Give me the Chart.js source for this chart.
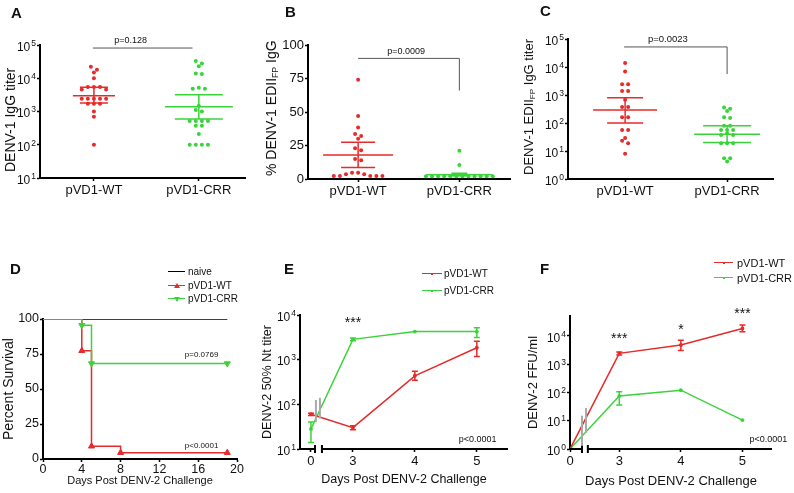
<!DOCTYPE html>
<html>
<head>
<meta charset="utf-8">
<title>DENV vaccine figure</title>
<script src="https://cdn.jsdelivr.net/npm/chart.js@4.4.1/dist/chart.umd.min.js"></script>
<style>
  html, body { margin: 0; padding: 0; background: #fff; }
  body { position: relative; width: 794px; height: 493px; overflow: hidden;
         font-family: "Liberation Sans", Arial, "DejaVu Sans", sans-serif; color: #111; }
  canvas { position: absolute; }
  .letter { position: absolute; font-weight: bold; font-size: 15px; line-height: 15px; z-index: 2; }
  .ytitle { position: absolute; white-space: nowrap; line-height: 16px; z-index: 2;
            transform-origin: 0 0; transform: rotate(-90deg); }
  .ytitle sub { font-size: 62%; vertical-align: -0.25em; line-height: 0; }
  .lg { position: absolute; white-space: nowrap; height: 0; z-index: 2; }
  .lg .ln { position: absolute; left: 0; top: -0.75px; border-top: 1.5px solid; }
  .lg .mk { position: absolute; width: 0; height: 0; }
  .lg .tx { position: absolute; top: -7px; line-height: 14px; }
</style>
</head>
<body>
<div class="letter" style="left:11px;top:5px">A</div>
<div class="letter" style="left:285px;top:4px">B</div>
<div class="letter" style="left:540px;top:3px">C</div>
<div class="letter" style="left:10px;top:261px">D</div>
<div class="letter" style="left:284px;top:261px">E</div>
<div class="letter" style="left:540px;top:261px">F</div>

<div class="ytitle" data-cx="10" data-cy="120" style="font-size:14px">DENV-1 IgG titer</div>
<div class="ytitle" data-cx="271" data-cy="108" style="font-size:14px">% DENV-1 EDII<sub>FP</sub> IgG</div>
<div class="ytitle" data-cx="529" data-cy="107" style="font-size:13px">DENV-1 EDII<sub>FP</sub> IgG titer</div>

<script>
const FONT = '"Liberation Sans", Arial, "DejaVu Sans", sans-serif';
const RED = '#e52b2b';
const GREEN = '#3ad43a';
const INK = '#111';

// ---------- data ----------
const groups = ['pVD1-WT', 'pVD1-CRR'];

// A: DENV-1 IgG titer per mouse
const aWT = [22000, 18000, 15000, 10000, 5500, 5500, 5500, 4600, 4600,
             2400, 2400, 2400, 2400, 2400, 1700, 1700, 1700, 1000, 700, 100];
const aCRR = [33000, 28000, 23000, 14000, 13500, 5200, 4800, 4800, 1500, 1100,
              1000, 520, 520, 520, 520, 370, 370, 210, 100, 100, 100, 100];
const aMean = [3000, 1400];
const aSemLow = [1800, 600];
const aSemHigh = [5400, 3200];

// B: % DENV-1 EDII FP IgG
const bWT = [74, 47, 38.5, 33.5, 32, 30, 23, 21.5, 15, 14,
             4.7, 4.7, 3.5, 3.5, 2.2, 2.2, 2.2, 2.2, 2.2];
const bCRR = [21, 10.4, 2, 2, 2, 2, 2, 2, 2, 2, 2, 2, 2, 2];
const bMean = [18, 3.2];
const bSemLow = [8.5, 2.4];
const bSemHigh = [27.5, 4.2];

// C: DENV-1 EDII FP IgG titer
const cWT = [14000, 6900, 2400, 2400, 1400, 1400, 670, 370, 370, 160, 160,
             56, 56, 29, 23, 19, 8];
const cCRR = [360, 320, 270, 160, 150, 80, 80, 56, 56, 56, 43, 37, 37,
              19, 19, 19, 5.5, 5.5, 4.2];
const cMean = [290, 40];
const cSemLow = [100, 20];
const cSemHigh = [800, 80];

// D: survival after DENV-2 challenge
const dNames = ['naive', 'pVD1-WT', 'pVD1-CRR'];
const dNaiveDays = [0, 19];
const dNaiveSurv = [100, 100];
const dWtDays = [0, 4, 5, 8, 19];
const dWtSurv = [100, 77.3, 9.1, 4.5, 4.5];
const dCrrDays = [0, 4, 5, 19];
const dCrrSurv = [100, 95.5, 68.2, 68.2];

// E: DENV-2 50% Nt titer
const eDays = [0, 3, 4, 5];
const eDayLabels = ['0', '3', '4', '5'];
const eWtMean = [60, 30, 435, 1850];
const eWtLow = [56, 27, 345, 1170];
const eWtHigh = [63, 33, 550, 2600];
const eCrrMean = [28, 2850, 4250, 4250];
const eCrrLow = [14, 2650, 4150, 3150];
const eCrrHigh = [40, 3050, 4350, 5200];

// F: DENV-2 FFU/ml
const fDays = [0, 3, 4, 5];
const fDayLabels = ['0', '3', '4', '5'];
const fWtMean = [1, 2400, 4700, 18000];
const fWtLow = [1, 2100, 3000, 14000];
const fWtHigh = [1, 2700, 7000, 24000];
const fCrrMean = [1, 74, 120, 10.5];
const fCrrLow = [1, 36, 120, 10.5];
const fCrrHigh = [1, 105, 120, 10.5];

// broken x axis: days 3..5 are pulled to the left of the real day scale
const ePos = d => d === 0 ? 0 : d - 2.323;
const fPos = d => d === 0 ? 0 : d - 2.2;

// ---------- helpers ----------
Chart.defaults.animation = false;
Chart.defaults.events = [];
Chart.defaults.font.family = FONT;
Chart.defaults.plugins.legend.display = false;
Chart.defaults.plugins.tooltip.enabled = false;

// rotated axis titles: centre them on whole pixels
document.querySelectorAll('.ytitle').forEach(el => {
    const w = el.offsetWidth, h = el.offsetHeight;
    el.style.left = Math.round(+el.dataset.cx - h / 2) + 'px';
    el.style.top = Math.round(+el.dataset.cy + w / 2) + 'px';
});

function panel(left, top, w, h) {
    const c = document.createElement('canvas');
    c.width = w; c.height = h;
    c.style.left = left + 'px'; c.style.top = top + 'px';
    c.style.width = w + 'px'; c.style.height = h + 'px';
    document.body.appendChild(c);
    return c;
}

function pairs(xs, ys, pos) {
    return xs.map((x, i) => ({ x: pos ? pos(x) : x, y: ys[i] }));
}

// simple beeswarm: values close together share a row, spread around the group centre
function swarm(values, center, tol, step, isLog) {
    const key = v => isLog ? Math.log10(v) : v;
    const sorted = values.slice().sort((a, b) => b - a);
    const rows = [];
    sorted.forEach(v => {
        const r = rows[rows.length - 1];
        if (r && key(r[0]) - key(v) <= tol) r.push(v); else rows.push([v]);
    });
    const pts = [];
    rows.forEach(r => {
        const n = r.length;
        const slots = [];
        for (let k = 0; k < n; k++) slots.push((k - (n - 1) / 2) * step);
        slots.sort((a, b) => Math.abs(a) - Math.abs(b) || a - b);
        r.forEach((v, i) => pts.push({ x: center + slots[i], y: v }));
    });
    return pts;
}

function decades(min, max) {
    const out = [];
    for (let e = Math.round(Math.log10(min)); e <= Math.floor(Math.log10(max) + 1e-9); e++) out.push(Math.pow(10, e));
    return out;
}

function axisBase(size) {
    return {
        border: { display: true, color: '#000', width: 2 },
        grid: { display: true, drawOnChartArea: false, drawTicks: true, tickLength: 3, tickWidth: 1.5, tickColor: '#000' },
        ticks: { color: INK, font: { family: FONT, size: size }, padding: 1, autoSkip: false, maxRotation: 0 }
    };
}

function yAxis(kind, min, max, width, size) {
    const a = axisBase(size);
    a.type = kind; a.min = min; a.max = max;
    a.afterFit = s => { s.width = width; };
    if (kind === 'logarithmic') {
        a.afterBuildTicks = s => { s.ticks = decades(min, max).map(v => ({ value: v })); };
        a.ticks.display = false; // powers of ten drawn by the extras plugin
    }
    return a;
}

function groupX(min, max, height, size) {
    const a = axisBase(size);
    a.type = 'linear'; a.min = min; a.max = max;
    a.afterFit = s => { s.height = height; };
    a.afterBuildTicks = s => { s.ticks = groups.map((g, i) => ({ value: i + 1 })); };
    a.ticks.callback = (v, i) => groups[i];
    a.ticks.padding = 2;
    return a;
}

function dayX(days, labels, pos, min, max, height, size) {
    const a = axisBase(size);
    a.type = 'linear'; a.min = min; a.max = max;
    a.border = { display: false }; // broken axis line drawn by the plugin
    a.afterFit = s => { s.height = height; };
    a.afterBuildTicks = s => { s.ticks = days.map(d => ({ value: pos(d) })); };
    a.ticks.callback = (v, i) => labels[i];
    a.ticks.padding = 2;
    return a;
}

function title(text, size, pad) {
    return { display: true, text: text, color: INK, font: { family: FONT, size: size }, padding: pad };
}

const extras = {
    id: 'extras',
    afterDatasetsDraw(chart, args, o) {
        const { ctx, chartArea: area } = chart;
        const x = chart.scales.x, y = chart.scales.y;
        ctx.save();

        // error bars on line series
        chart.data.datasets.forEach((ds, i) => {
            if (!ds.errLow) return;
            const meta = chart.getDatasetMeta(i);
            ctx.strokeStyle = ds.borderColor; ctx.lineWidth = 1.5;
            meta.data.forEach((pt, j) => {
                const lo = y.getPixelForValue(ds.errLow[j]), hi = y.getPixelForValue(ds.errHigh[j]);
                if (Math.abs(lo - hi) < 1) return;
                ctx.beginPath();
                ctx.moveTo(pt.x, lo); ctx.lineTo(pt.x, hi);
                ctx.moveTo(pt.x - 3, lo); ctx.lineTo(pt.x + 3, lo);
                ctx.moveTo(pt.x - 3, hi); ctx.lineTo(pt.x + 3, hi);
                ctx.stroke();
            });
        });

        // mean and SEM of scatter groups
        (o.bars || []).forEach(b => {
            const cx = x.getPixelForValue(b.x);
            const ym = y.getPixelForValue(b.mean), yl = y.getPixelForValue(b.low), yh = y.getPixelForValue(b.high);
            ctx.strokeStyle = b.color; ctx.lineWidth = 1.5;
            ctx.beginPath();
            ctx.moveTo(cx - b.meanHalf, ym); ctx.lineTo(cx + b.meanHalf, ym);
            ctx.moveTo(cx - b.capHalf, yl); ctx.lineTo(cx + b.capHalf, yl);
            ctx.moveTo(cx - b.capHalf, yh); ctx.lineTo(cx + b.capHalf, yh);
            ctx.moveTo(cx, yl); ctx.lineTo(cx, yh);
            ctx.stroke();
        });

        // p-value brackets
        (o.brackets || []).forEach(b => {
            const yy = y.getPixelForValue(b.y);
            ctx.strokeStyle = '#555'; ctx.lineWidth = 1;
            ctx.beginPath();
            ctx.moveTo(x.getPixelForValue(b.x1), yy);
            ctx.lineTo(x.getPixelForValue(b.x2), yy);
            if (b.drop != null) ctx.lineTo(x.getPixelForValue(b.x2), y.getPixelForValue(b.drop));
            ctx.stroke();
        });

        // broken x axis
        if (o.axisBreak) {
            const yb = area.bottom;
            const l = x.getPixelForValue(o.axisBreak[0]), r = x.getPixelForValue(o.axisBreak[1]);
            ctx.strokeStyle = '#000'; ctx.lineWidth = 2;
            ctx.beginPath();
            ctx.moveTo(area.left - 1, yb); ctx.lineTo(l, yb);
            ctx.moveTo(r, yb); ctx.lineTo(area.right, yb);
            ctx.moveTo(l, yb - 4); ctx.lineTo(l, yb + 4);
            ctx.moveTo(r, yb - 4); ctx.lineTo(r, yb + 4);
            ctx.stroke();
        }

        // break marks across the data lines
        (o.lineBreaks || []).forEach(m => {
            const px = x.getPixelForValue(m.x);
            ctx.strokeStyle = '#aaa'; ctx.lineWidth = 2;
            ctx.beginPath();
            ctx.moveTo(px, y.getPixelForValue(m.y1)); ctx.lineTo(px, y.getPixelForValue(m.y2));
            ctx.stroke();
        });

        // annotations
        (o.texts || []).forEach(t => {
            ctx.font = `${t.size}px ${FONT}`;
            ctx.fillStyle = INK; ctx.textAlign = 'center'; ctx.textBaseline = 'middle';
            ctx.fillText(t.text, x.getPixelForValue(t.x), y.getPixelForValue(t.y) + (t.dy || 0));
        });

        // powers of ten on log y axes
        if (o.pow) {
            const xr = y.right - 4;
            y.ticks.forEach(tk => {
                const py = y.getPixelForValue(tk.value);
                const ex = String(Math.round(Math.log10(tk.value)));
                const base = py + 1.5 + 0.358 * o.pow.size;
                ctx.fillStyle = INK; ctx.textAlign = 'right'; ctx.textBaseline = 'alphabetic';
                ctx.font = `${o.pow.esize}px ${FONT}`;
                const ew = ctx.measureText(ex).width;
                ctx.fillText(ex, xr, base - 0.42 * o.pow.size);
                ctx.font = `${o.pow.size}px ${FONT}`;
                ctx.fillText('10', xr - ew - 1, base);
            });
        }
        ctx.restore();
    }
};

function dots(data, color) {
    return { data: data, backgroundColor: color, borderWidth: 0, pointRadius: 2 };
}

// ---------- A ----------
new Chart(panel(0, 0, 260, 245), {
    type: 'scatter',
    data: { datasets: [
        dots(swarm(aWT, 1, 0.1, 0.058, true), RED),
        dots(swarm(aCRR, 2, 0.1, 0.058, true), GREEN)
    ] },
    options: {
        responsive: false,
        layout: { padding: { top: 45, right: 15, left: 0, bottom: 0 } },
        scales: { x: groupX(0.486, 2.44, 67, 13), y: yAxis('logarithmic', 10, 1e5, 40, 12) },
        plugins: { extras: {
            pow: { size: 12, esize: 8.5 },
            bars: [
                { x: 1, mean: aMean[0], low: aSemLow[0], high: aSemHigh[0], color: RED, meanHalf: 21, capHalf: 14 },
                { x: 2, mean: aMean[1], low: aSemLow[1], high: aSemHigh[1], color: GREEN, meanHalf: 34, capHalf: 24 }
            ],
            brackets: [{ x1: 0.99, x2: 1.94, y: 81000 }],
            texts: [{ x: 1.35, y: 1.4e5, text: 'p=0.128', size: 9 }]
        } }
    },
    plugins: [extras]
});

// ---------- B ----------
const bY = yAxis('linear', 0, 100, 48, 13);
bY.ticks.stepSize = 25;
new Chart(panel(260, 0, 260, 245), {
    type: 'scatter',
    data: { datasets: [
        dots(swarm(bWT, 1, 2.6, 0.06, false), RED),
        dots(swarm(bCRR, 2, 2.6, 0.06, false), GREEN)
    ] },
    options: {
        responsive: false,
        layout: { padding: { top: 45, right: 10, left: 0, bottom: 0 } },
        scales: { x: groupX(0.505, 2.5, 66, 13), y: bY },
        plugins: { extras: {
            bars: [
                { x: 1, mean: bMean[0], low: bSemLow[0], high: bSemHigh[0], color: RED, meanHalf: 35, capHalf: 17 },
                { x: 2, mean: bMean[1], low: bSemLow[1], high: bSemHigh[1], color: GREEN, meanHalf: 33, capHalf: 8 }
            ],
            brackets: [{ x1: 1, x2: 2, y: 90, drop: 66 }],
            texts: [{ x: 1.475, y: 95.5, text: 'p=0.0009', size: 9 }]
        } }
    },
    plugins: [extras]
});

// ---------- C ----------
new Chart(panel(520, 0, 274, 245), {
    type: 'scatter',
    data: { datasets: [
        dots(swarm(cWT, 1, 0.1, 0.059, true), RED),
        dots(swarm(cCRR, 2, 0.1, 0.059, true), GREEN)
    ] },
    options: {
        responsive: false,
        layout: { padding: { top: 39, right: 21, left: 0, bottom: 0 } },
        scales: { x: groupX(0.44, 2.45, 66, 13), y: yAxis('logarithmic', 1, 1e5, 48, 12) },
        plugins: { extras: {
            pow: { size: 12, esize: 8.5 },
            bars: [
                { x: 1, mean: cMean[0], low: cSemLow[0], high: cSemHigh[0], color: RED, meanHalf: 32, capHalf: 18 },
                { x: 2, mean: cMean[1], low: cSemLow[1], high: cSemHigh[1], color: GREEN, meanHalf: 33, capHalf: 24 }
            ],
            brackets: [{ x1: 0.99, x2: 2, y: 52000, drop: 5600 }],
            texts: [{ x: 1.42, y: 96000, text: 'p=0.0023', size: 9.5 }]
        } }
    },
    plugins: [extras]
});

// ---------- D ----------
const dX = axisBase(12.5);
dX.type = 'linear'; dX.min = 0; dX.max = 20;
dX.ticks.stepSize = 4; dX.ticks.padding = 0;
dX.afterFit = s => { s.height = 34; };
dX.title = title('Days Post DENV-2 Challenge', 11, { top: 0, bottom: 5.4 });
const dY = yAxis('linear', 0, 100, 43, 12.5);
dY.ticks.stepSize = 25;
dY.title = title('Percent Survival', 14, { top: 0.6, bottom: 0 });
const firstHidden = ctx => ctx.dataIndex === 0 ? 0 : 3.5;
new Chart(panel(0, 250, 260, 243), {
    type: 'line',
    data: { datasets: [
        { label: dNames[0], data: pairs(dNaiveDays, dNaiveSurv), borderColor: '#000', borderWidth: 1.5,
          stepped: true, pointRadius: 0, order: 2 },
        { label: dNames[1], data: pairs(dWtDays, dWtSurv), borderColor: RED, backgroundColor: RED, borderWidth: 1.5,
          stepped: true, pointStyle: 'triangle', pointRadius: firstHidden, pointBorderWidth: 1, order: 1 },
        { label: dNames[2], data: pairs(dCrrDays, dCrrSurv), borderColor: GREEN, backgroundColor: GREEN, borderWidth: 1.5,
          stepped: true, pointStyle: 'triangle', pointRotation: 180, pointRadius: firstHidden, pointBorderWidth: 1, order: 0 }
    ] },
    options: {
        responsive: false,
        layout: { padding: { top: 69, right: 23, left: 0, bottom: 0 } },
        scales: { x: dX, y: dY },
        plugins: { extras: {
            texts: [
                { x: 16.35, y: 74.6, text: 'p=0.0769', size: 8 },
                { x: 16.35, y: 9.6, text: 'p<0.0001', size: 8 }
            ]
        } }
    },
    plugins: [extras]
});

// ---------- E ----------
function seriesLine(data, color, low, high) {
    return { data: data, borderColor: color, backgroundColor: color, borderWidth: 1.5, pointRadius: 1.2,
             tension: 0, errLow: low, errHigh: high };
}
const eX = dayX(eDays, eDayLabels, ePos, -0.177, 3.18, 44, 13);
eX.title = title('Days Post DENV-2 Challenge', 12.5, { top: 0, bottom: 5.5 });
const eY = yAxis('logarithmic', 10, 1e4, 40, 12);
eY.title = title('DENV-2 50% Nt titer', 12.5, { top: 0, bottom: 0 });
new Chart(panel(260, 250, 260, 243), {
    type: 'line',
    data: { datasets: [
        seriesLine(pairs(eDays, eWtMean, ePos), RED, eWtLow, eWtHigh),
        seriesLine(pairs(eDays, eCrrMean, ePos), GREEN, eCrrLow, eCrrHigh)
    ] },
    options: {
        responsive: false,
        layout: { padding: { top: 65, right: 12, left: 0, bottom: 0 } },
        scales: { x: eX, y: eY },
        plugins: { extras: {
            pow: { size: 12, esize: 8.5 },
            axisBreak: [0.065, 0.177],
            lineBreaks: [{ x: 0.08, y1: 40, y2: 125 }, { x: 0.145, y1: 48, y2: 140 }],
            texts: [
                { x: ePos(3), y: 7500, text: '***', size: 14, dy: 3 },
                { x: 2.69, y: 16, text: 'p<0.0001', size: 9 }
            ]
        } }
    },
    plugins: [extras]
});

// ---------- F ----------
const fX = dayX(fDays, fDayLabels, fPos, 0, 3.28, 44, 13);
fX.title = title('Days Post DENV-2 Challenge', 13, { top: 0, bottom: 4.2 });
const fY = yAxis('logarithmic', 1, 5e4, 50, 12);
fY.title = title('DENV-2 FFU/ml', 13, { top: 5.2, bottom: 0 });
new Chart(panel(520, 250, 274, 243), {
    type: 'line',
    data: { datasets: [
        seriesLine(pairs(fDays, fWtMean, fPos), RED, fWtLow, fWtHigh),
        seriesLine(pairs(fDays, fCrrMean, fPos), GREEN, fCrrLow, fCrrHigh)
    ] },
    options: {
        responsive: false,
        layout: { padding: { top: 66, right: 22, left: 0, bottom: 0 } },
        scales: { x: fX, y: fY },
        plugins: { extras: {
            pow: { size: 12, esize: 8.5 },
            axisBreak: [0.195, 0.29],
            lineBreaks: [{ x: 0.195, y1: 1.3, y2: 15 }, { x: 0.26, y1: 3.7, y2: 28 }],
            texts: [
                { x: fPos(3), y: 9600, text: '***', size: 14, dy: 3 },
                { x: fPos(4), y: 20000, text: '*', size: 14, dy: 3 },
                { x: fPos(5), y: 74000, text: '***', size: 14, dy: 3 },
                { x: 3.22, y: 2.08, text: 'p<0.0001', size: 9 }
            ]
        } }
    },
    plugins: [extras]
});

// ---------- legends ----------
function legend(items, x0, rows, lineLen, textX, size) {
    items.forEach((it, i) => {
        const row = document.createElement('div');
        row.className = 'lg';
        row.style.left = x0 + 'px'; row.style.top = rows[i] + 'px'; row.style.fontSize = size + 'px';
        let mk = '';
        const mid = lineLen / 2;
        if (it.marker === 'up') {
            mk = `<span class="mk" style="left:${mid - 3}px;top:-3px;border-left:3px solid transparent;border-right:3px solid transparent;border-bottom:5px solid ${it.color}"></span>`;
        } else if (it.marker === 'down') {
            mk = `<span class="mk" style="left:${mid - 3}px;top:-2px;border-left:3px solid transparent;border-right:3px solid transparent;border-top:5px solid ${it.color}"></span>`;
        } else if (it.marker === 'dot') {
            mk = `<span class="mk" style="left:${mid - 1}px;top:-1px;width:2px;height:2px;background:${it.color}"></span>`;
        }
        row.innerHTML = `<span class="ln" style="width:${lineLen}px;border-color:${it.color}"></span>${mk}` +
                        `<span class="tx" style="left:${textX}px">${it.name}</span>`;
        document.body.appendChild(row);
    });
}

legend([
    { name: dNames[0], color: '#000' },
    { name: dNames[1], color: RED, marker: 'up' },
    { name: dNames[2], color: GREEN, marker: 'down' }
], 168, [272, 285.5, 299], 17, 20, 10);

legend([
    { name: groups[0], color: RED, marker: 'dot' },
    { name: groups[1], color: GREEN, marker: 'dot' }
], 422, [274, 291], 20, 22, 10);

legend([
    { name: groups[0], color: RED, marker: 'dot' },
    { name: groups[1], color: GREEN, marker: 'dot' }
], 714, [263, 278], 19, 23, 11);
</script>
</body>
</html>
